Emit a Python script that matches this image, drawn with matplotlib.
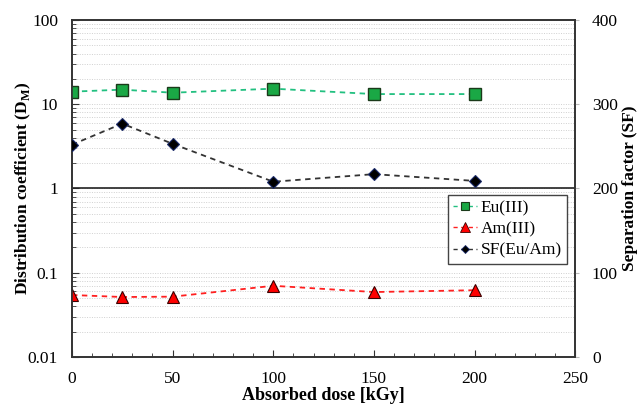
import matplotlib
matplotlib.use("Agg")
import matplotlib.pyplot as plt
from matplotlib.lines import Line2D
from matplotlib.ticker import MultipleLocator, LogLocator, NullFormatter

plt.rcParams['font.family'] = ['Liberation Serif', 'DejaVu Serif']

dose = [0, 25, 50, 100, 150, 200]
eu_d = [14.1, 14.9, 13.7, 15.3, 13.2, 13.2]
am_d = [0.0544, 0.0515, 0.052, 0.070, 0.059, 0.062]
am_err = [0.004, 0.004, 0.004, 0.006, 0.004, 0.004]
sf = [252, 277, 253, 208, 217, 209]

fig = plt.figure(figsize=(6.37, 4.07), dpi=100)
ax = fig.add_axes([0.113, 0.1229, 0.79, 0.828])
ax2 = ax.twinx()

ax.set_yscale('log')
ax.set_ylim(0.01, 100)
ax.set_xlim(0, 250)

ax.yaxis.set_minor_locator(LogLocator(base=10, subs=range(2, 10)))
ax.yaxis.set_minor_formatter(NullFormatter())
ax.grid(True, which='both', axis='y', color='#d0d0d0', linestyle=(0, (1, 1.5)), linewidth=0.7)
ax.axhline(1, color='#222222', linewidth=1.2, zorder=2)

ax.set_yticks([0.01, 0.1, 1, 10, 100])
ax.set_yticklabels(['0.01', '0.1', '1', '10', '100'])
ax.xaxis.set_major_locator(MultipleLocator(50))
ax.xaxis.set_minor_locator(MultipleLocator(10))
ax.tick_params(axis='both', which='both', direction='in', labelsize=12.5, color='#333333')
ax.tick_params(axis='y', which='major', length=5, pad=10)
ax.tick_params(axis='y', which='minor', length=3)
ax.tick_params(axis='x', which='major', length=5, pad=10)
ax.tick_params(axis='x', which='minor', length=3)

eu_color = '#22c080'
am_color = '#ff2020'
sf_color = '#333333'
ls = (0, (3, 2.5))

ax.plot(dose, eu_d, linestyle=ls, color=eu_color, linewidth=1.3,
        marker='s', markersize=8.5, markerfacecolor='#1aa845', markeredgecolor='#1a3a1a',
        markeredgewidth=1.0, zorder=4)
ax.errorbar(dose, am_d, yerr=am_err, linestyle=ls, color=am_color, linewidth=1.3,
            marker='^', markersize=9, markerfacecolor='#ff0000', markeredgecolor='#3a0000',
            markeredgewidth=0.8, ecolor='#333333', elinewidth=0.8, capsize=0, zorder=4)
ax2.plot(dose, sf, linestyle=ls, color=sf_color, linewidth=1.3,
         marker='D', markersize=6.5, markerfacecolor='#000000', markeredgecolor='#1a2a6a',
         markeredgewidth=0.8, zorder=4)

ax2.set_ylim(0, 400)
ax2.set_yticks([0, 100, 200, 300, 400])
ax2.tick_params(axis='y', direction='out', length=3, labelsize=12.5, color='#bbbbbb', pad=9)

for sp in ['left', 'bottom', 'right', 'top']:
    for a in (ax, ax2):
        a.spines[sp].set_color('#333333')
        a.spines[sp].set_linewidth(1.2)

ax.set_xlabel('Absorbed dose [kGy]', fontsize=13, fontweight='bold', labelpad=0)
ax.set_ylabel('Distribution coefficient (D$_\\mathregular{M}$)', fontsize=12.5, fontweight='bold')
ax.yaxis.set_label_coords(-0.078, 0.5)
ax2.set_ylabel('Separation factor (SF)', fontsize=12.5, fontweight='bold')
ax2.yaxis.set_label_coords(1.093, 0.5)

h1 = Line2D([], [], linestyle=ls, color=eu_color, linewidth=1.0, marker='s', markersize=6,
            markerfacecolor='#1aa845', markeredgecolor='#1a3a1a', markeredgewidth=0.8)
h2 = Line2D([], [], linestyle=ls, color=am_color, linewidth=1.0, marker='^', markersize=7,
            markerfacecolor='#ff0000', markeredgecolor='#3a0000', markeredgewidth=0.6)
h3 = Line2D([], [], linestyle=ls, color=sf_color, linewidth=1.0, marker='D', markersize=4.5,
            markerfacecolor='#000000', markeredgecolor='#1a2a6a', markeredgewidth=0.6)
leg = ax2.legend([h1, h2, h3], ['Eu(III)', 'Am(III)', 'SF(Eu/Am)'], loc='upper left',
                 bbox_to_anchor=(0.747, 0.482), fontsize=12.5, frameon=True, fancybox=False,
                 edgecolor='#444444', framealpha=1, handlelength=1.4, handletextpad=0.2,
                 borderpad=0.3, labelspacing=0.3, borderaxespad=0)
leg.get_frame().set_linewidth(1.0)

fig.savefig('out.png', dpi=100)
